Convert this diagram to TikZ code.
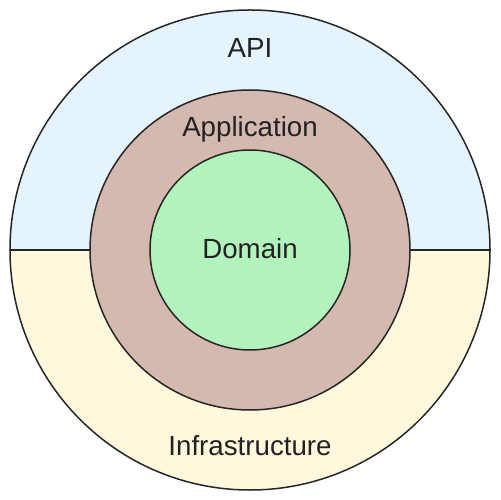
\documentclass[tikz,border=0pt]{standalone}
\usepackage{fontspec}
\setmainfont{Liberation Sans}
\definecolor{apiblue}{RGB}{229,243,255}
\definecolor{infrayellow}{RGB}{255,248,220}
\definecolor{appbrown}{RGB}{212,185,176}
\definecolor{domgreen}{RGB}{178,242,188}
\definecolor{labelgray}{RGB}{34,34,34}
\begin{document}
\begin{tikzpicture}[x=1bp,y=1bp,
  ring/.style={draw=black!85,line width=1.5bp},
  layer/.style={inner sep=0pt,text=labelgray,font=\fontsize{27.8}{28}\selectfont}]
\useasboundingbox (-250,-250) rectangle (250,250);
% outer ring: API on top, Infrastructure below
\fill [apiblue] (-240,0) arc (180:0:240) -- cycle;
\fill [infrayellow] (-240,0) arc (180:360:240) -- cycle;
\draw [ring] (0,0) circle (240);
\draw [ring] (-240,0) -- (-160,0);
\draw [ring] (160,0) -- (240,0);
% application ring
\draw [ring,fill=appbrown] (0,0) circle (160);
% domain core
\draw [ring,fill=domgreen] (0,0) circle (100);
\node [layer] (api) at (0,202) {API};
\node [layer] (app) at (0,121) {Application};
\node [layer] (dom) at (0,1) {Domain};
\node [layer] (infra) at (0,-196) {Infrastructure};
\end{tikzpicture}
\end{document}
